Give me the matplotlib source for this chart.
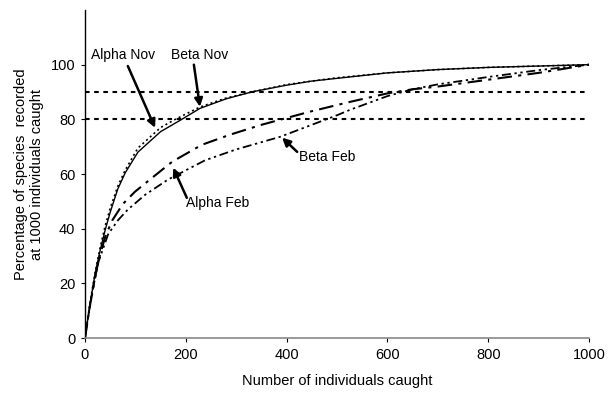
import numpy as np
import matplotlib
matplotlib.use("Agg")
import matplotlib.pyplot as plt

plt.rcParams['font.family'] = ['Liberation Sans', 'DejaVu Sans']

# species accumulation curves
alpha_nov_x = [0, 10, 20, 30, 40, 50, 65, 80, 105, 150, 179, 228, 280, 330, 400, 450, 500, 600, 700, 800, 900, 1000]
alpha_nov_y = [0, 13, 24, 33, 41, 47.5, 55.5, 61.5, 69.5, 77, 80, 84.5, 87.8, 90, 92.7, 94, 95.2, 97, 98.2, 99, 99.5, 100]

beta_nov_x = [0, 10, 20, 30, 40, 50, 65, 80, 105, 150, 192, 228, 280, 330, 400, 450, 500, 600, 700, 800, 900, 1000]
beta_nov_y = [0, 12.5, 23.5, 32, 39.5, 46, 54.5, 60.5, 68, 75.5, 80, 84, 87.5, 90, 92.5, 94, 95, 97, 98.2, 99, 99.5, 100]

alpha_feb_x = [0, 10, 20, 27, 40, 54, 75, 99, 129, 173, 232, 288, 350, 446, 526, 600, 650, 700, 800, 900, 1000]
alpha_feb_y = [0, 12, 22, 28.5, 37, 43, 49, 53.5, 58, 64.5, 70.7, 74.4, 78, 82.8, 86.4, 89.5, 91, 92, 94.5, 97, 100]

beta_feb_x = [0, 10, 20, 27, 46, 65, 85, 120, 165, 238, 300, 387, 450, 500, 526, 600, 650, 700, 800, 900, 1000]
beta_feb_y = [0, 12, 22, 28, 38, 43, 47, 52.5, 58, 65, 69, 73.6, 78, 81.5, 83.5, 88.5, 91, 92.8, 95.5, 98, 100]

ref_levels = [80, 90]

# label text, text position, arrow tip
notes = [
    ("Alpha Nov", (75, 103.7), (139, 76.9)),
    ("Beta Nov", (228, 103.7), (228, 84.6)),
    ("Alpha Feb", (264, 49.5), (175, 62.3)),
    ("Beta Feb", (480, 66.3), (391, 73.3)),
]
arrow_starts = [(85, 99.5), (216, 100), (202, 51.3), (421, 68.1)]

fig = plt.figure(figsize=(6.08, 3.94), dpi=100)
ax = fig.add_axes([0.1398, 0.1421, 0.829, 0.8325])

for lvl in ref_levels:
    ax.plot([0, 1000], [lvl, lvl], color='black', lw=1.5, dashes=(2.2, 2.2))

ax.plot(beta_nov_x, beta_nov_y, color='black', lw=1.0)
ax.plot(alpha_nov_x, alpha_nov_y, color='black', lw=1.2, dashes=(1.2, 1.8))
ax.plot(alpha_feb_x, alpha_feb_y, color='black', lw=1.5, dashes=(7, 3, 1.5, 3))
ax.plot(beta_feb_x, beta_feb_y, color='black', lw=1.3, dashes=(5, 2, 1.3, 2, 1.3, 2))

for (txt, tpos, tip), start in zip(notes, arrow_starts):
    ax.text(tpos[0], tpos[1], txt, ha='center', va='center', fontsize=10)
    ax.annotate("", xy=tip, xytext=start,
                arrowprops=dict(arrowstyle='-|>', color='black', lw=1.8,
                                mutation_scale=12, shrinkA=0, shrinkB=0))

ax.set_xlim(0, 1000)
ax.set_ylim(0, 120)
ax.set_xticks(np.arange(0, 1001, 200))
ax.set_yticks(np.arange(0, 101, 20))
ax.tick_params(direction='out', length=3, width=0.8, labelsize=10.5, pad=4)

ax.spines['top'].set_visible(False)
ax.spines['right'].set_visible(False)
ax.spines['left'].set_linewidth(1.0)
ax.spines['bottom'].set_color('#888888')
ax.spines['bottom'].set_linewidth(1.2)

ax.set_xlabel("Number of individuals caught", fontsize=10.5, labelpad=9)
ax.set_ylabel("Percentage of species  recorded\nat 1000 individuals caught", fontsize=10.5, labelpad=5)

fig.savefig("out.png", dpi=100)
